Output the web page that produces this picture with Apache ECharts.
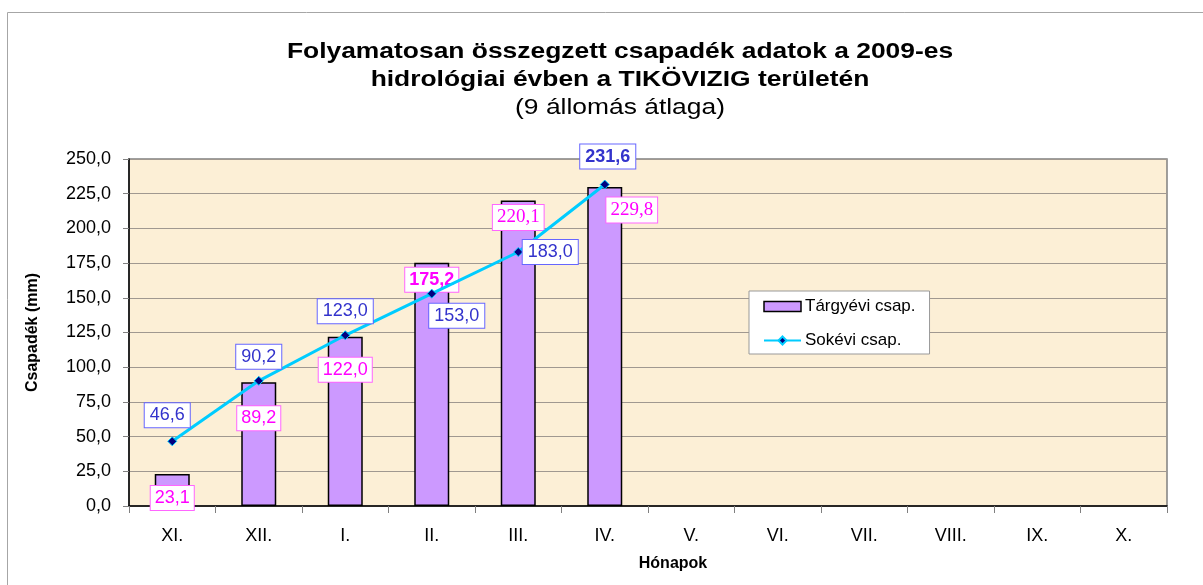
<!DOCTYPE html>
<html>
<head>
<meta charset="utf-8">
<script src="https://cdn.jsdelivr.net/npm/echarts@6/dist/echarts.min.js"></script>
<style>
  html, body { margin: 0; padding: 0; background: #fff; }
  #chart { width: 1203px; height: 585px; }
</style>
</head>
<body>
<div id="chart"></div>
<script>
// adatok
const months = ['XI.', 'XII.', 'I.', 'II.', 'III.', 'IV.', 'V.', 'VI.', 'VII.', 'VIII.', 'IX.', 'X.'];
const currentYear = [23.1, 89.2, 122.0, 175.2, 220.1, 229.8];  // Tárgyévi csap.
const longTerm = [46.6, 90.2, 123.0, 153.0, 183.0, 231.6];     // Sokévi csap.
const titleLines = [
  'Folyamatosan összegzett csapadék adatok a 2009-es',
  'hidrológiai évben a TIKÖVIZIG területén',
  '(9 állomás átlaga)'
];

// címkék elhelyezése (px eltolás)
const barLabelOffsets = [[0, 24], [0, 36], [0, 33], [0, 17], [0, 17], [27, 23]];
const barLabelSerif = [false, false, false, false, true, true];
const barLabelBold = [false, false, false, true, false, false];
const lineLabelOffsets = [[-5, -26], [0, -24], [0, -24], [25, 22], [32, 0], [3, -28]];
const lineLabelBold = [false, false, false, false, false, true];

const fmt = v => v.toFixed(1).replace('.', ',');
const SANS = '"Liberation Sans", Arial, sans-serif';
const SERIF = '"Liberation Serif", "Times New Roman", serif';

const chart = echarts.init(document.getElementById('chart'));

const barData = currentYear.map((v, i) => ({
  value: v,
  label: {
    show: true,
    position: ['50%', 0],
    align: 'center',
    verticalAlign: 'middle',
    offset: barLabelOffsets[i],
    formatter: p => fmt(p.value),
    color: '#ff00ff',
    fontSize: barLabelSerif[i] ? 19 : 18,
    fontFamily: barLabelSerif[i] ? SERIF : SANS,
    fontWeight: barLabelBold[i] ? 'bold' : 'normal',
    backgroundColor: '#fff',
    borderColor: '#ff66ff',
    borderWidth: 1,
    padding: [4, 4, 2, 4]
  }
}));

const lineData = longTerm.map((v, i) => ({
  value: v,
  label: {
    show: true,
    position: 'inside',
    offset: lineLabelOffsets[i],
    formatter: p => fmt(p.value),
    color: '#3333cc',
    fontSize: 18,
    fontWeight: lineLabelBold[i] ? 'bold' : 'normal',
    backgroundColor: '#fff',
    borderColor: '#6666ff',
    borderWidth: 1,
    padding: [4, 5, 2, 5]
  }
}));

const titleY = [52, 80, 108];
const titleGraphics = titleLines.map((t, i) => ({
  type: 'text',
  x: 620,
  y: titleY[i],
  scaleX: 1.2,
  silent: true,
  style: {
    text: t,
    fill: '#000',
    font: (i < 2 ? 'bold ' : '') + '22px ' + SANS,
    textAlign: 'center',
    textVerticalAlign: 'middle'
  }
}));

const option = {
  animation: false,
  textStyle: { fontFamily: SANS },
  legend: {
    orient: 'vertical',
    left: 749,
    top: 291,
    padding: [7, 14, 5, 14],
    itemGap: 17,
    backgroundColor: '#fff',
    borderColor: '#999',
    borderWidth: 1,
    borderRadius: 0,
    itemWidth: 37,
    itemHeight: 10,
    textStyle: { fontSize: 17, color: '#000', padding: [0, 0, 0, -1] },
    data: [
      { name: 'Tárgyévi csap.', icon: 'rect', itemStyle: { color: '#cc99ff', borderColor: '#000', borderWidth: 1.5 } },
      { name: 'Sokévi csap.' }
    ]
  },
  graphic: [
    {
      type: 'rect',
      shape: { x: 7.5, y: 12.5, width: 1220, height: 600 },
      style: { fill: 'none', stroke: '#a6a6a6', lineWidth: 1 },
      silent: true,
      z: -10
    }
  ].concat(titleGraphics),
  grid: {
    left: 129,
    right: 36,
    top: 159,
    bottom: 79,
    show: true,
    backgroundColor: '#fcefd6',
    borderColor: '#808080',
    borderWidth: 1.5
  },
  xAxis: {
    type: 'category',
    data: months,
    boundaryGap: true,
    name: 'Hónapok',
    nameLocation: 'middle',
    nameGap: 50,
    nameTextStyle: { fontSize: 16, fontWeight: 'bold', color: '#000', padding: [0, 0, 0, 50] },
    axisLine: { lineStyle: { color: '#000', width: 1.5 } },
    axisTick: { show: true, length: 7, alignWithLabel: false, lineStyle: { color: '#808080' } },
    axisLabel: { fontSize: 18, color: '#000', margin: 21 },
    splitLine: { show: false }
  },
  yAxis: {
    type: 'value',
    min: 0,
    max: 250,
    interval: 25,
    name: 'Csapadék (mm)',
    nameLocation: 'middle',
    nameGap: 88,
    nameTextStyle: { fontSize: 16, fontWeight: 'bold', color: '#000' },
    axisLine: { show: true, lineStyle: { color: '#000', width: 1.5 } },
    axisTick: { show: true, length: 6, lineStyle: { color: '#808080' } },
    axisLabel: { fontSize: 18, color: '#000', margin: 18, formatter: v => fmt(v) },
    splitLine: { lineStyle: { color: '#a09890', width: 1.2 } }
  },
  series: [
    {
      name: 'Tárgyévi csap.',
      type: 'bar',
      data: barData,
      barWidth: 35,
      itemStyle: { color: '#cc99ff', borderColor: '#000', borderWidth: 1.5 },
      z: 2
    },
    {
      name: 'Sokévi csap.',
      type: 'line',
      data: lineData,
      symbol: 'diamond',
      symbolSize: 9,
      lineStyle: { color: '#00ccff', width: 3 },
      itemStyle: { color: '#000080', borderColor: '#00ccff', borderWidth: 1 },
      z: 3
    }
  ]
};

chart.setOption(option);
</script>
</body>
</html>
